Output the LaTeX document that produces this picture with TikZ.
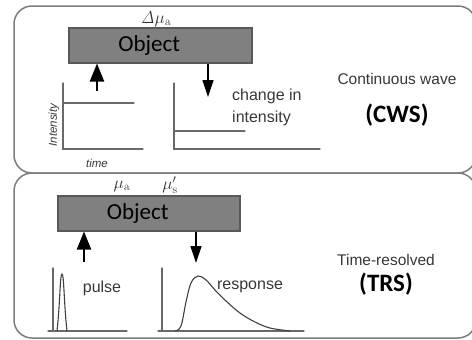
\documentclass[tikz,border=0pt]{standalone}
\usepackage[no-math]{fontspec}
\setmainfont{Liberation Sans}
\newfontfamily\calibri{Carlito}
\usetikzlibrary{positioning, arrows.meta}
\definecolor{PanelGray}{RGB}{125,125,125}
\definecolor{ObjGray}{RGB}{128,128,128}
\definecolor{AxisGray}{RGB}{105,105,105}
\definecolor{LabelGray}{RGB}{55,55,55}

\begin{document}
\begin{tikzpicture}[
  x=1pt, y=-1pt,
  every node/.style={inner sep=0pt},
  panel/.style={draw=PanelGray, line width=1.5pt, rounded corners=18pt},
  object/.style={
    rectangle, draw=black!65, line width=1.5pt, fill=ObjGray,
    minimum width=183pt, minimum height=35pt, anchor=north west
  },
  objtext/.style={font=\calibri\fontsize{23}{26}\selectfont},
  axis/.style={draw=AxisGray, line width=1.3pt, line cap=round},
  curve/.style={draw=black!75, line width=1.1pt},
  uparr/.style={-{Triangle[length=18pt, width=14pt]}, line width=2.2pt},
  downarr/.style={-{Triangle[length=17pt, width=11pt]}, line width=1.3pt},
  param/.style={font=\fontsize{17}{19}\selectfont, text=black!80},
  plotlabel/.style={font=\fontsize{16}{22}\selectfont, text=LabelGray, align=left},
  axlabel/.style={font=\itshape\fontsize{11.5}{13}\selectfont, text=LabelGray},
  method/.style={font=\fontsize{15.5}{18}\selectfont, text=LabelGray},
  acronym/.style={font=\calibri\bfseries\fontsize{25}{28}\selectfont}
]
\useasboundingbox (0,0) rectangle (472,340);

% ================ panels ================
\draw[panel] (14,6) rectangle (476,173);
\draw[panel] (14,173) rectangle (476,338);

% ================ top: continuous wave ================
\node[object] (objCW) at (68,27) {};
\node[objtext] (objCWtext) at ([xshift=-11pt]objCW.center) {Object};
\node[param] (dmua) at (156,19) {$\mathit{\Delta}\mu_{\mathrm{a}}$};

\coordinate (inCW) at (97,91);
\coordinate (outCW) at (208,97);
\draw[uparr] (inCW) -- (objCW.south -| inCW);
\draw[downarr] (objCW.south -| outCW) -- (outCW);

% input plot
\coordinate (cwInO) at (63,149);
\draw[axis] (63,83) -- (cwInO) -- (143,149);
\draw[axis] (63,103) -- (134,103);
\node[axlabel, rotate=90] (intens) at (54,125) {Intensity};
\node[axlabel] (time) at (97,163) {time};

% output plot
\coordinate (cwOutO) at (174,149);
\draw[axis] (174,83) -- (cwOutO) -- (320,149);
\draw[axis] (174,131) -- (245,131);
\node[plotlabel, anchor=west] (change) at (232,107) {change in\\intensity};

\node[method] (cwTitle) at (397,79) {Continuous wave};
\node[acronym, below=19pt of cwTitle] (cws) {(CWS)};

% ================ bottom: time resolved ================
\node[object, minimum width=182pt] (objTR) at (57,195) {};
\node[objtext] (objTRtext) at ([xshift=-11pt]objTR.center) {Object};
\node[param] (mua) at (122,186) {$\mu_{\mathrm{a}}$};
\node[param] (mus) at (170,185) {$\mu_{\mathrm{s}}'$};

\coordinate (inTR) at (84,262);
\coordinate (outTR) at (196,263);
\draw[uparr] (inTR) -- (objTR.south -| inTR);
\draw[downarr] (objTR.south -| outTR) -- (outTR);

% pulse plot
\draw[axis] (53,268) -- (53,331);
\draw[axis] (48,331) -- (127,331);
\draw[curve] (57,331) .. controls (60,305) and (60,274) .. (62,274)
  .. controls (64,274) and (64,305) .. (67,331);
\node[plotlabel] (pulse) at (102,288) {pulse};

% response plot
\draw[axis] (162,268) -- (162,331);
\draw[axis] (158,331) -- (304,331);
\draw[curve] plot[smooth, tension=0.6] coordinates {
  (175,331) (181,326) (186,302) (191,283) (198,276) (206,280)
  (215,290) (226,301) (240,313) (255,322) (270,328) (290,331)};
\node[plotlabel] (resp) at (250,287) {response};

\node[method] (trTitle) at (386,260) {Time-resolved};
\node[acronym, below=7pt of trTitle] (trs) {(TRS)};
\end{tikzpicture}
\end{document}
